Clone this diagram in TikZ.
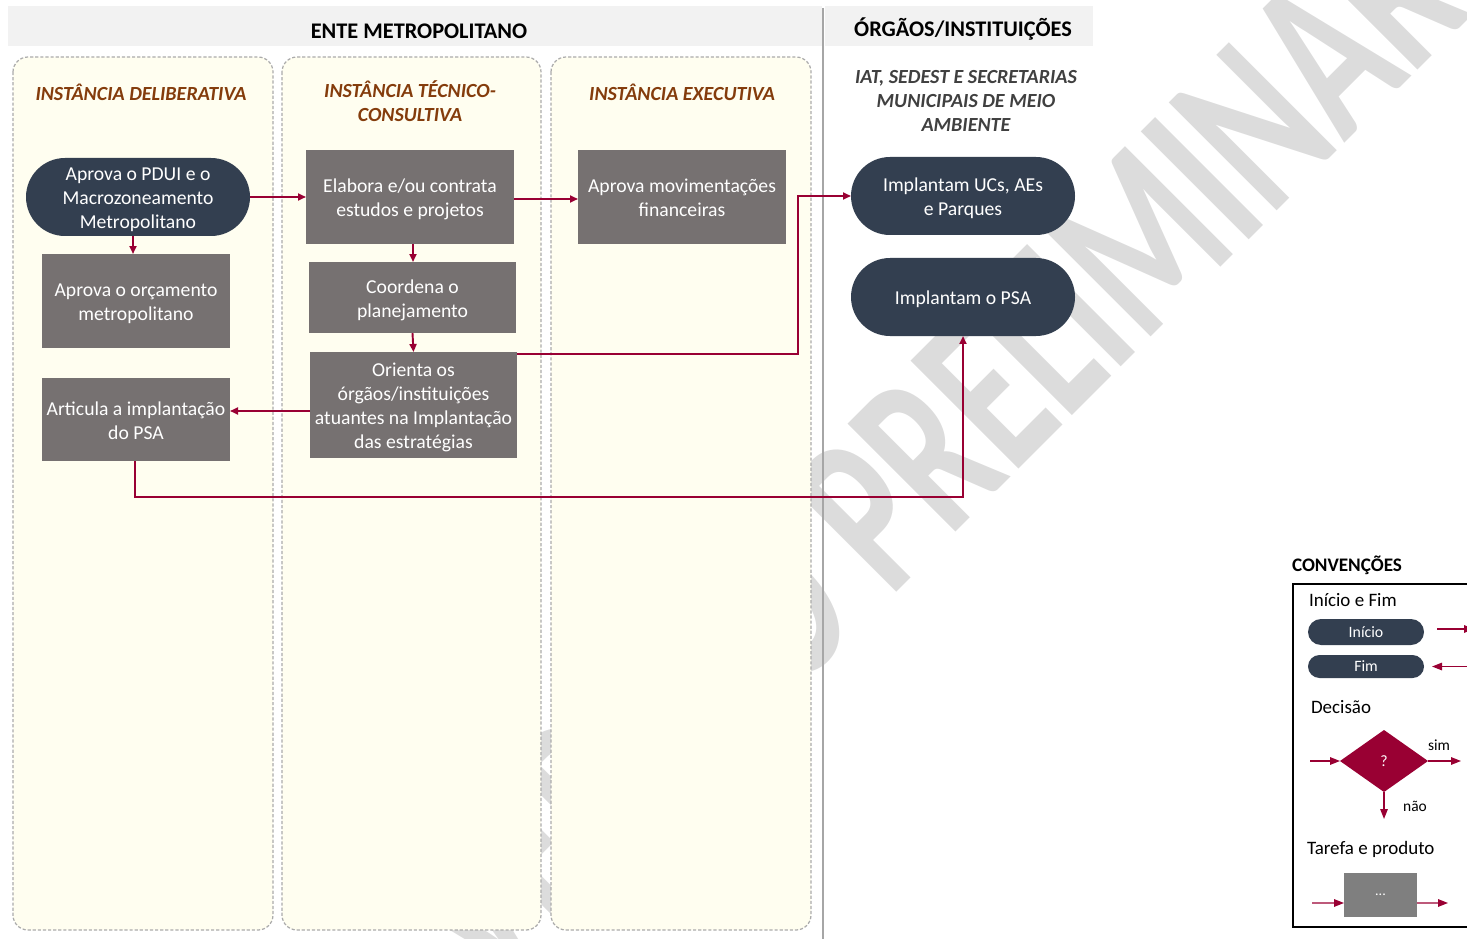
\documentclass[tikz,border=0pt]{standalone}
\usepackage{fontspec}
\setmainfont{Carlito}
\usetikzlibrary{shapes.geometric,arrows.meta,calc}

\definecolor{navy}{HTML}{333F50}
\definecolor{taskgray}{HTML}{767171}
\definecolor{legendgray}{HTML}{7F7F7F}
\definecolor{flowred}{HTML}{990033}
\definecolor{lanetitle}{HTML}{843C0C}
\definecolor{lanefill}{HTML}{FFFEF0}
\definecolor{laneline}{HTML}{ABABAB}
\definecolor{headfill}{HTML}{F2F2F2}
\definecolor{sepline}{HTML}{A6A6A6}
\definecolor{orgtitle}{HTML}{404040}
\definecolor{marktext}{HTML}{DCDCDC}

% centred multi-line label, set slightly low inside its box
\newcommand\dnbox[1]{\raisebox{-1.7pt}[\height][\depth]{%
  \begin{tabular}{@{}c@{}}#1\end{tabular}}}

\begin{document}
\begin{tikzpicture}[x=0.02cm, y=-0.02cm,
  every node/.style={inner sep=0pt, outer sep=0pt},
  sz/.style 2 args={minimum width=#1*0.02cm, minimum height=#2*0.02cm},
  body/.style={font=\fontsize{11.2}{13.7}\selectfont, text=white, align=center},
  task/.style={body, fill=taskgray},
  term/.style={body, fill=navy, rounded corners=0.78cm},
  lane/.style={draw=laneline, fill=lanefill, line width=0.7pt,
    dash pattern=on 1.8pt off 1.1pt, rounded corners=0.3cm},
  head/.style={font=\bfseries\fontsize{12.7}{15}\selectfont, text=black},
  lanehead/.style={font=\bfseries\itshape\fontsize{11.4}{13.7}\selectfont,
    text=lanetitle, align=center},
  orghead/.style={lanehead, text=orgtitle},
  flow/.style={draw=flowred, line width=1.1pt,
    -{Triangle[length=0.16cm, width=0.14cm]}},
  lflow/.style={draw=flowred, line width=0.8pt,
    -{Triangle[length=0.2cm, width=0.15cm]}},
  legtxt/.style={font=\fontsize{10.8}{13}\selectfont, anchor=west},
  legsmall/.style={font=\fontsize{8.8}{10.5}\selectfont},
  legpill/.style={fill=navy, text=white, font=\fontsize{9}{10}\selectfont},
  wmtext/.style={text=marktext, font=\bfseries\fontsize{134}{134}\selectfont,
    rotate=45, xscale=0.67}
]
\useasboundingbox (0,0) rectangle (1467,939);
\clip (0,0) rectangle (1467,939);

% watermark behind everything
\node[wmtext, anchor=base west] (wmb) at (890,598) {PRELIMINAR};
\node[wmtext, anchor=base east] (wma) at (865,623) {VERSÃO};

% header bands and separator
\fill[headfill] (8,6) rectangle (822,46);
\fill[headfill] (825,6) rectangle (1093,46);
\draw[sepline, line width=0.6pt] (823,8) -- (823,939);
\node[head] (hEnte) at (419,31) {ENTE METROPOLITANO};
\node[head] (hOrg) at (963,29) {ÓRGÃOS/INSTITUIÇÕES};

% swimlanes
\draw[lane] (13,57) rectangle (273,930);
\draw[lane] (282,57) rectangle (541,930);
\draw[lane] (551,57) rectangle (811,930);

\node[lanehead] (tDel) at (141,92) {INSTÂNCIA DELIBERATIVA};
\node[lanehead] (tTec) at (410,101) {INSTÂNCIA TÉCNICO-\\CONSULTIVA};
\node[lanehead] (tExe) at (682,92) {INSTÂNCIA EXECUTIVA};
\node[orghead] (tOrg) at (966,101) {IAT, SEDEST E SECRETARIAS\\MUNICIPAIS DE MEIO\\AMBIENTE};

% process nodes
\node[term, sz={224}{78}] (pdui) at (138,197) {\dnbox{Aprova o PDUI e o\\Macrozoneamento\\Metropolitano}};
\node[task, sz={188}{94}] (orc) at (136,301) {\dnbox{Aprova o orçamento\\metropolitano}};
\node[task, sz={188}{83}] (art) at (136,419.5) {\dnbox{Articula a implantação\\do PSA}};
\node[task, sz={208}{94}] (ela) at (410,197) {\dnbox{Elabora e/ou contrata\\estudos e projetos}};
\node[task, sz={207}{71}] (coo) at (412.5,297.5) {\dnbox{Coordena o\\planejamento}};
\node[task, sz={207}{106}] (ori) at (413.5,405) {\dnbox{Orienta os\\órgãos/instituições\\atuantes na Implantação\\das estratégias}};
\node[task, sz={208}{94}] (mov) at (682,197) {\dnbox{Aprova movimentações\\financeiras}};
\node[term, sz={224}{78}] (ucs) at (963,196) {\dnbox{Implantam UCs, AEs\\e Parques}};
\node[term, sz={224}{78}] (psa) at (963,297) {\dnbox{Implantam o PSA}};

% bend points
\coordinate (k1) at (798,196);
\coordinate (k2) at (963,497);

% connectors
\draw[flow] (pdui.east) -- (ela.west);
\draw[flow] ([xshift=-0.1cm]pdui.south) -- ([xshift=-0.1cm]pdui.south |- orc.north);
\draw[flow] ([xshift=0.06cm]ela.south) -- ([xshift=0.06cm]ela.south |- coo.north);
\draw[flow] (coo.south) -- (ori.north);
\draw[flow] ([yshift=-0.04cm]ela.east) -- ([yshift=-0.04cm]ela.east -| mov.west);
\draw[flow] ([yshift=-0.04cm]ori.north east) -| (k1) -- (ucs.west);
\draw[flow] ([yshift=-0.12cm]ori.west) -- ([yshift=-0.12cm]ori.west -| art.east);
\draw[flow] ([xshift=-0.02cm]art.south) |- (k2) -- (psa.south);

% legend
\node[font=\bfseries\fontsize{10.9}{13}\selectfont, anchor=west] (lgT) at (1292,565) {CONVENÇÕES};
\draw[black, line width=0.85pt] (1293,584) rectangle (1490,927);
\node[legtxt] (lgIF) at (1309,600) {Início e Fim};
\node[legpill, sz={116}{26}, rounded corners=0.26cm] (lgIni) at (1366,632) {Início};
\node[legpill, sz={116}{23}, rounded corners=0.23cm] (lgFim) at (1366,666.5) {Fim};
\coordinate (a1s) at (1437,629);
\coordinate (a1e) at (1474,629);
\coordinate (a2s) at (1478,666.5);
\draw[lflow] (a1s) -- (a1e);
\draw[lflow] (a2s) -- ([xshift=0.16cm]lgFim.east);

\node[legtxt] (lgDec) at (1311,707) {Decisão};
\node[diamond, fill=flowred, sz={88}{62}, text=white, font=\fontsize{9}{10}\selectfont] (lgQ) at (1384,761) {?};
\coordinate (a3s) at (1310,761);
\coordinate (a3e) at (1461,761);
\coordinate (a4e) at (1384,819);
\draw[lflow] (a3s) -- (lgQ.west);
\draw[lflow] (lgQ.east) -- (a3e);
\draw[lflow] (lgQ.south) -- (a4e);
\node[legsmall] (lgSim) at (1439,745) {sim};
\node[legsmall] (lgNao) at (1415,806) {não};

\node[legtxt] (lgTar) at (1307,849) {Tarefa e produto};
\node[fill=legendgray, sz={73}{44}, text=white, font=\fontsize{8}{9}\selectfont] (lgBox) at (1380.5,895) {...};
\coordinate (a5s) at (1312,903);
\coordinate (a5e) at (1448,903);
\draw[lflow] (a5s) -- ([yshift=-0.16cm]lgBox.west);
\draw[lflow] ([yshift=-0.16cm]lgBox.east) -- (a5e);
\end{tikzpicture}
\end{document}
